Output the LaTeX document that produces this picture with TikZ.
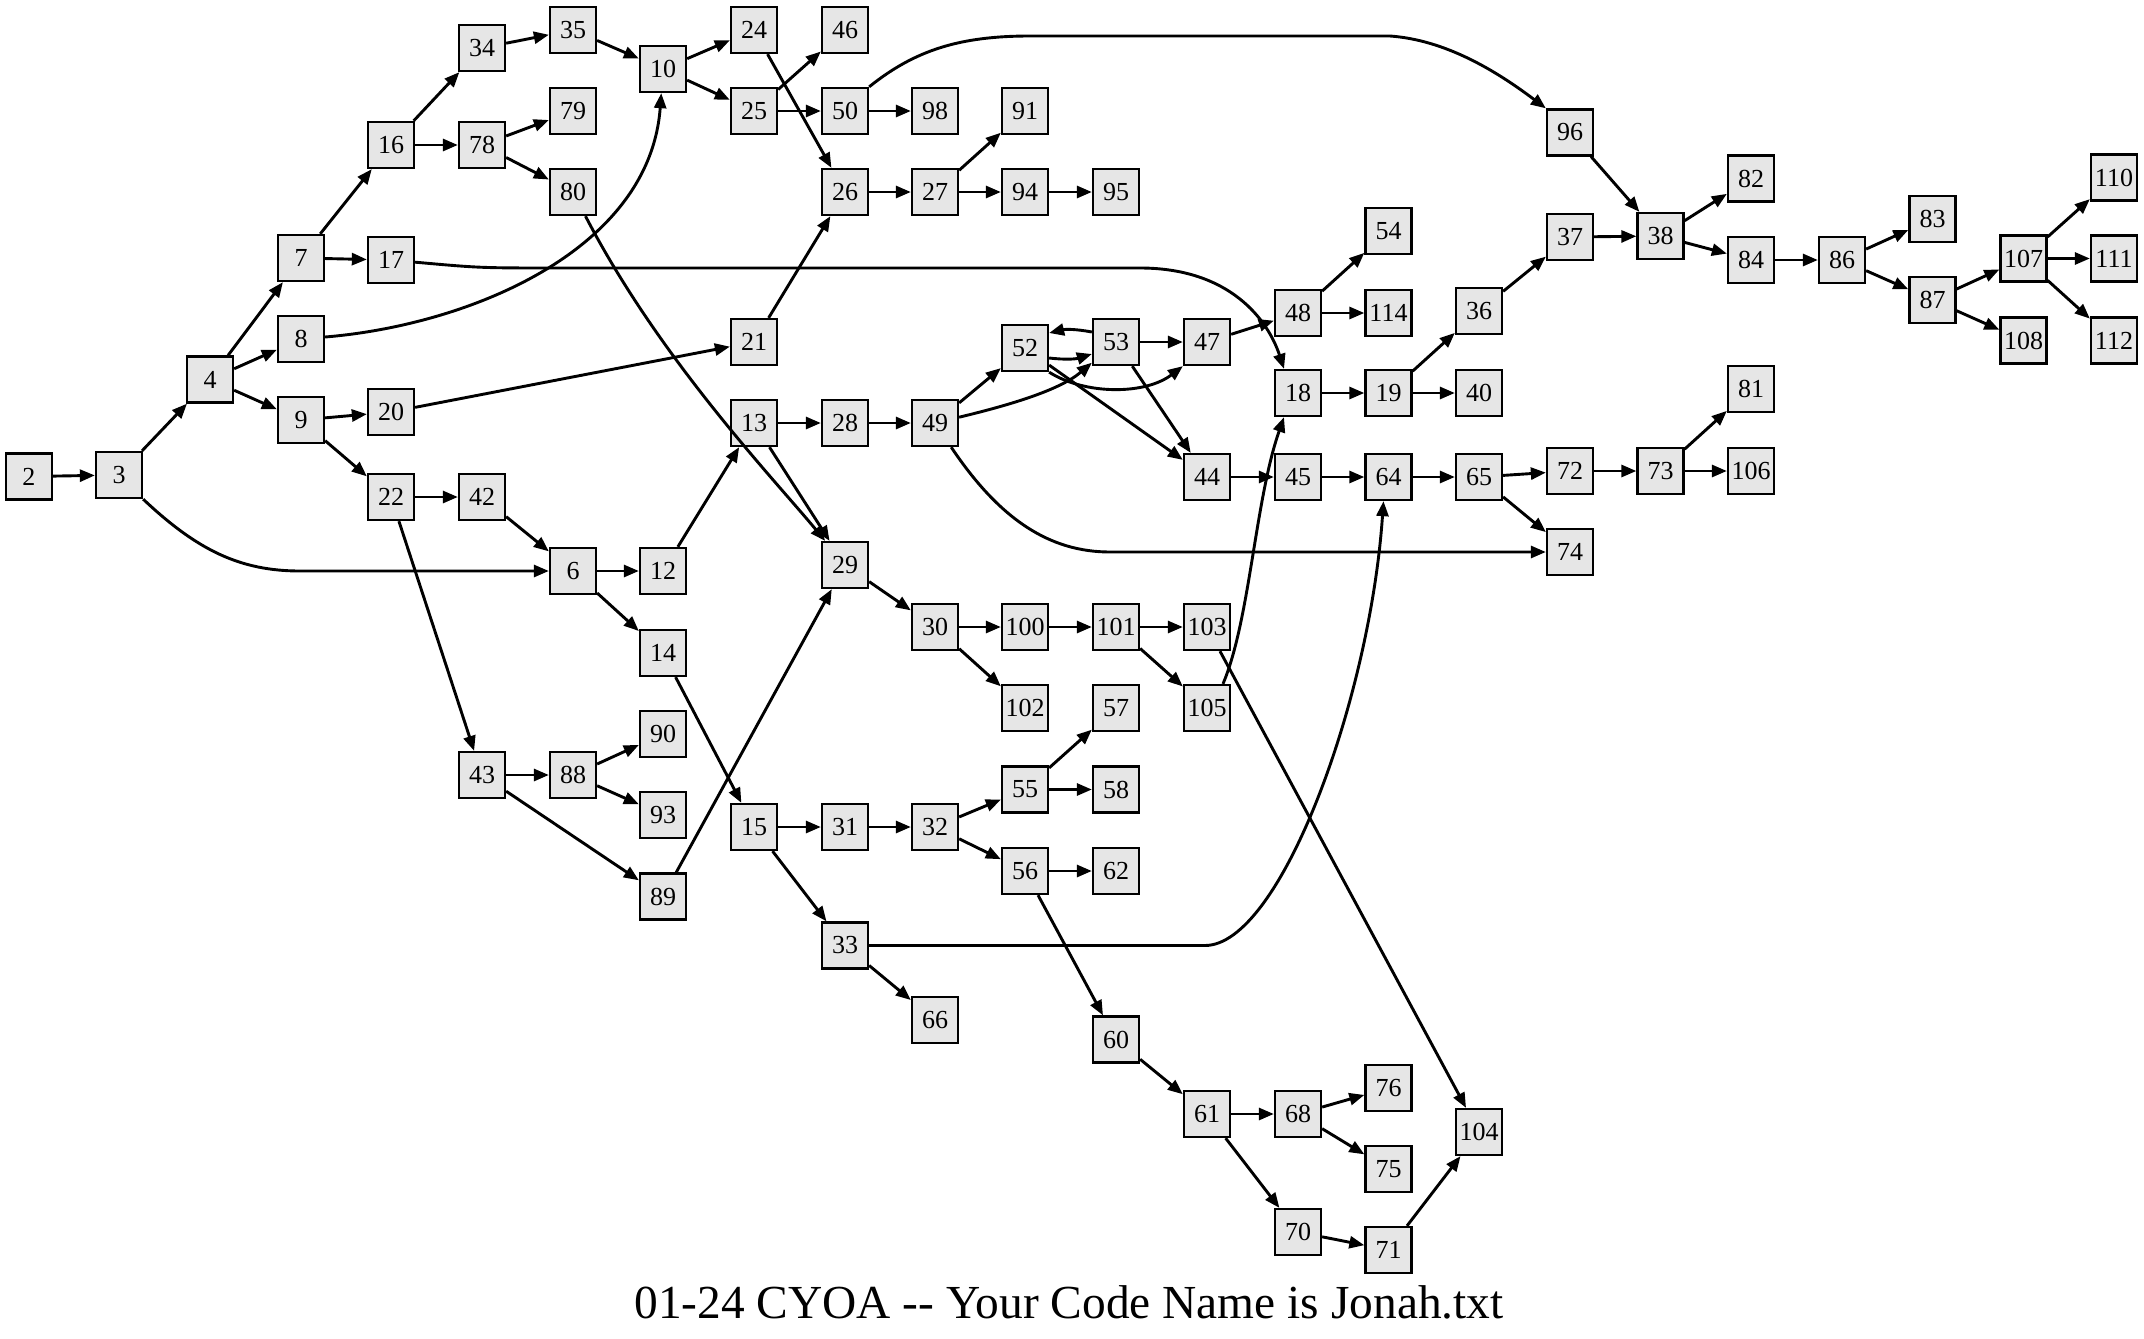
\documentclass[tikz,border=0pt]{standalone}
\usepackage{fontspec}
\setmainfont{Liberation Serif}
\usetikzlibrary{arrows.meta}
\begin{document}
\begin{tikzpicture}[x=0.5pt,y=-0.5pt,
  nbox/.style={draw=black, line width=1.15pt, fill={rgb,255:red,230;green,230;blue,230}, minimum width=23pt, minimum height=23pt, inner sep=0pt, font=\fontsize{13}{15}\selectfont},
  conn/.style={line width=1.45pt, -{Triangle[length=7.5pt,width=6pt]}}]
\useasboundingbox (0,0) rectangle (2144,1339);
\node[nbox] (n2) at (29,476.5) {2};
\node[nbox] (n3) at (119,475) {3};
\node[nbox] (n4) at (210,379.5) {4};
\node[nbox] (n7) at (301,258) {7};
\node[nbox] (n8) at (301,339) {8};
\node[nbox] (n9) at (301,420) {9};
\node[nbox] (n16) at (391,145) {16};
\node[nbox] (n17) at (391,260) {17};
\node[nbox] (n20) at (391,412) {20};
\node[nbox] (n22) at (391,497) {22};
\node[nbox] (n34) at (482,48) {34};
\node[nbox] (n78) at (482,145) {78};
\node[nbox] (n42) at (482,497) {42};
\node[nbox] (n43) at (482,775) {43};
\node[nbox] (n35) at (573,30) {35};
\node[nbox] (n79) at (573,111) {79};
\node[nbox] (n80) at (573,192) {80};
\node[nbox] (n6) at (573,571) {6};
\node[nbox] (n88) at (573,775) {88};
\node[nbox] (n10) at (663,69) {10};
\node[nbox] (n12) at (663,571) {12};
\node[nbox] (n14) at (663,653) {14};
\node[nbox] (n90) at (663,734) {90};
\node[nbox] (n93) at (663,815) {93};
\node[nbox] (n89) at (663,896.5) {89};
\node[nbox] (n24) at (754,30) {24};
\node[nbox] (n25) at (754,111) {25};
\node[nbox] (n21) at (754,342) {21};
\node[nbox] (n13) at (754,423) {13};
\node[nbox] (n15) at (754,827) {15};
\node[nbox] (n46) at (845,30) {46};
\node[nbox] (n50) at (845,111) {50};
\node[nbox] (n26) at (845,192) {26};
\node[nbox] (n28) at (845,423) {28};
\node[nbox] (n29) at (845,565) {29};
\node[nbox] (n31) at (845,827) {31};
\node[nbox] (n33) at (845,945.5) {33};
\node[nbox] (n98) at (935,111) {98};
\node[nbox] (n27) at (935,192) {27};
\node[nbox] (n49) at (935,423) {49};
\node[nbox] (n30) at (935,627) {30};
\node[nbox] (n32) at (935,827) {32};
\node[nbox] (n66) at (935,1020) {66};
\node[nbox] (n91) at (1025,111) {91};
\node[nbox] (n94) at (1025,192) {94};
\node[nbox] (n52) at (1025,348) {52};
\node[nbox] (n100) at (1025,627) {100};
\node[nbox] (n102) at (1025,708) {102};
\node[nbox] (n55) at (1025,789.5) {55};
\node[nbox] (n56) at (1025,871) {56};
\node[nbox] (n95) at (1116,192) {95};
\node[nbox] (n53) at (1116,342) {53};
\node[nbox] (n101) at (1116,627) {101};
\node[nbox] (n57) at (1116,708) {57};
\node[nbox] (n58) at (1116,789.5) {58};
\node[nbox] (n62) at (1116,871) {62};
\node[nbox] (n60) at (1116,1039.5) {60};
\node[nbox] (n47) at (1207,342) {47};
\node[nbox] (n44) at (1207,477) {44};
\node[nbox] (n103) at (1207,627) {103};
\node[nbox] (n105) at (1207,708) {105};
\node[nbox] (n61) at (1207,1114) {61};
\node[nbox] (n48) at (1298,313) {48};
\node[nbox] (n18) at (1298,393) {18};
\node[nbox] (n45) at (1298,477) {45};
\node[nbox] (n68) at (1298,1114) {68};
\node[nbox] (n70) at (1298,1232) {70};
\node[nbox] (n54) at (1388.5,231) {54};
\node[nbox] (n114) at (1388.5,313) {114};
\node[nbox] (n19) at (1388.5,393) {19};
\node[nbox] (n64) at (1388.5,477) {64};
\node[nbox] (n76) at (1388.5,1088) {76};
\node[nbox] (n75) at (1388.5,1169) {75};
\node[nbox] (n71) at (1388.5,1250) {71};
\node[nbox] (n36) at (1479,311) {36};
\node[nbox] (n40) at (1479,393) {40};
\node[nbox] (n65) at (1479,477) {65};
\node[nbox] (n104) at (1479,1132) {104};
\node[nbox] (n96) at (1570,132.5) {96};
\node[nbox] (n37) at (1570,237) {37};
\node[nbox] (n72) at (1570,471) {72};
\node[nbox] (n74) at (1570,552) {74};
\node[nbox] (n38) at (1660.5,236) {38};
\node[nbox] (n73) at (1660.5,471) {73};
\node[nbox] (n82) at (1751,178.5) {82};
\node[nbox] (n84) at (1751,260) {84};
\node[nbox] (n81) at (1751,389) {81};
\node[nbox] (n106) at (1751,471) {106};
\node[nbox] (n86) at (1842,260) {86};
\node[nbox] (n83) at (1932.5,219) {83};
\node[nbox] (n87) at (1932.5,300) {87};
\node[nbox] (n107) at (2023.5,258.5) {107};
\node[nbox] (n108) at (2023.5,340.5) {108};
\node[nbox] (n110) at (2114,177.5) {110};
\node[nbox] (n111) at (2114,258.5) {111};
\node[nbox] (n112) at (2114,340.5) {112};
\node[font=\fontsize{23.7}{28}\selectfont, anchor=base, inner sep=0pt] (cap) at (1069,1318.5) {01-24 CYOA -{}- Your Code Name is Jonah.txt};
% straight connectors
\foreach \a/\b in {2/3,3/4,4/7,4/8,4/9,7/16,7/17,9/20,9/22,16/34,16/78,20/21,22/42,22/43,34/35,35/10,78/79,78/80,42/6,6/12,6/14,12/13,14/15,10/24,10/25,24/26,25/46,25/50,50/98,21/26,13/28,13/29,28/49,26/27,27/91,27/94,94/95,49/52,52/44,53/44,53/47,47/48,48/54,48/114,18/19,19/36,19/40,36/37,37/38,96/38,38/82,38/84,84/86,86/83,86/87,87/107,87/108,107/110,107/111,107/112,44/45,45/64,64/65,65/72,65/74,72/73,73/81,73/106,29/30,30/100,30/102,100/101,101/103,101/105,103/104,43/88,43/89,88/90,88/93,89/29,15/31,15/33,31/32,32/55,32/56,55/57,55/58,56/62,56/60,33/66,60/61,61/68,61/70,68/76,68/75,70/71,71/104}
  {\draw[conn] (n\a) -- (n\b);}
% curved connectors
\draw[conn] (n3.south east) .. controls (197,550) and (240,571) .. (300,571) -- (n6);
\draw[conn] (n8) .. controls (470,325) and (650,250) .. (n10);
\draw[conn] (n17) .. controls (480,268) .. (560,268) -- (1140,268) .. controls (1230,268) and (1268,320) .. ([xshift=-7pt]n18.north);
\draw[conn] (n80) .. controls (660,360) and (775,480) .. (n29);
\draw[conn] (n50.north east) .. controls (915,50) and (960,36) .. (1030,36) -- (1390,36) .. controls (1445,40) and (1495,70) .. (n96.north west);
\draw[conn] (n49) .. controls (1000,520) and (1050,552) .. (1110,552) -- (n74);
\draw[conn] (n49) .. controls (1010,405) and (1060,390) .. (n53);
\draw[conn] ([yshift=-5pt]n52.east) to[bend right=12] ([yshift=-6pt]n53.west);
\draw[conn] ([yshift=5pt]n53.west) to[bend right=12] ([yshift=7.5pt]n52.east);
\draw[conn] (n52.south east) .. controls (1085,395) and (1145,395) .. (n47.south west);
\draw[conn] ([xshift=8pt]n105.north) .. controls (1250,620) and (1255,500) .. ([xshift=-7pt]n18.south);
\draw[conn] (n33) -- (1205,945.5) .. controls (1280,945.5) and (1370,700) .. ([xshift=-2.5pt]n64.south);
\end{tikzpicture}
\end{document}
